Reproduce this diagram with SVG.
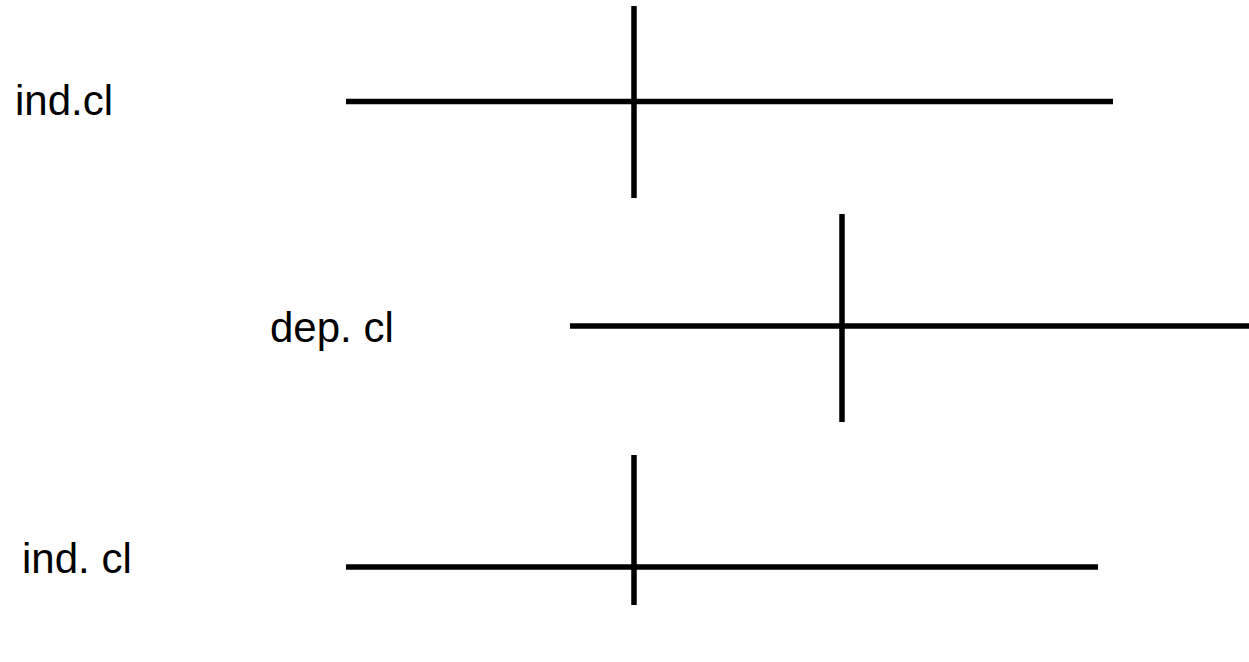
<svg xmlns="http://www.w3.org/2000/svg" width="1249" height="662" viewBox="0 0 1249 662">
<style>
.lbl{font-family:"Liberation Sans",Arial,sans-serif;font-size:42px;fill:#000}
.ln{stroke:#000;stroke-width:5.5;fill:none}
</style>
<rect width="1249" height="662" fill="#fff"/>
<g id="node-ind1"><text class="lbl" x="15" y="115">ind.cl</text></g>
<g id="node-dep"><text class="lbl" x="270" y="342">dep. cl</text></g>
<g id="node-ind2"><text class="lbl" x="22" y="573">ind. cl</text></g>
<g id="connectors">
<line class="ln" x1="346" y1="101.5" x2="1113" y2="101.5"/>
<line class="ln" x1="634" y1="6" x2="634" y2="198"/>
<line class="ln" x1="570" y1="326" x2="1249" y2="326"/>
<line class="ln" x1="842" y1="214" x2="842" y2="422"/>
<line class="ln" x1="346" y1="567" x2="1098" y2="567"/>
<line class="ln" x1="634" y1="455" x2="634" y2="605"/>
</g>
</svg>
